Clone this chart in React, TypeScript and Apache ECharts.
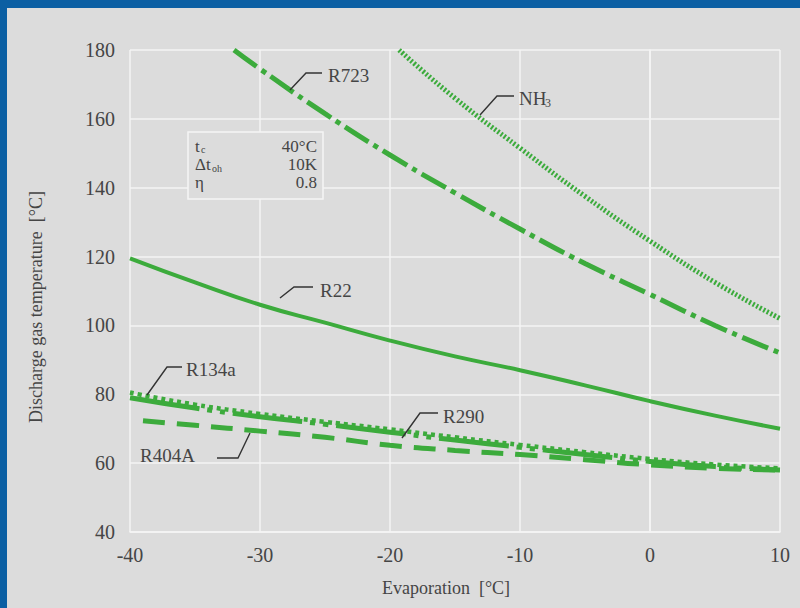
import React, { useEffect, useRef } from "react";
import * as echarts from "echarts";

const evapFull = [-40, -35, -30, -25, -20, -15, -10, -5, 0, 5, 10];
const evapR723 = [-32, -30, -25, -20, -15, -10, -5, 0, 5, 10];
const evapNH3 = [-19.3, -15, -10, -5, 0, 5, 10];
const evapR404A = [-39, -35, -30, -25, -20, -15, -10, -5, 0, 5, 10];

const r723 = [180, 174.5, 161.5, 149.5, 138.5, 128, 118, 109, 100, 92];
const nh3 = [180, 166, 151.5, 137.5, 124.5, 112.5, 102];
const r22 = [119.5, 112.5, 106, 100.8, 95.6, 91, 87, 82.6, 78, 73.8, 70];
const r134a = [80.5, 77, 74.3, 72, 69.8, 67.5, 65.3, 63.2, 61.2, 59.6, 58.5];
const r290 = [79, 76, 73.5, 71.3, 69, 66.7, 64.6, 62.5, 60.5, 59, 58];
const r404a = [72.3, 71, 69.3, 67.5, 65.2, 63.7, 62.5, 61, 59.5, 58.5, 58];

const xTicks = { min: -40, max: 10, interval: 10 };
const yTicks = { min: 40, max: 180, interval: 20 };

const GREEN = "#3cab3c";
const BLUE = "#0b5fa3";
const BG = "#dcdcdc";
const TXT = "#454545";
const SERIF = "Liberation Serif";

const zip = (xs: number[], ys: number[]) => xs.map((x, i) => [x, ys[i]]);

export default function App() {
  const ref = useRef<HTMLDivElement>(null);
  useEffect(() => {
    const chart = echarts.init(ref.current!, null, { renderer: "svg" });
    const mkSeries = (name: string, data: number[][], width: number, type: any) => ({
      name,
      type: "line",
      data,
      smooth: true,
      showSymbol: false,
      symbol: "none",
      lineStyle: { color: GREEN, width, type },
      z: 3,
    });
    const leader = (pts: number[][]) => ({
      type: "polyline",
      shape: { points: pts },
      style: { stroke: "#333", lineWidth: 1.4, fill: null },
      z: 50,
    });
    const txt = (text: string, x: number, y: number, size: number, align = "left", z = 50) => ({
      type: "text",
      x,
      y,
      style: {
        text,
        fill: TXT,
        fontSize: size,
        fontFamily: SERIF,
        align,
        verticalAlign: "middle",
        lineHeight: size,
      },
      z,
    });
    chart.setOption({
      animation: false,
      backgroundColor: BG,
      grid: { left: 130, right: 20, top: 50, bottom: 76, containLabel: false },
      xAxis: {
        type: "value",
        ...xTicks,
        axisLine: { show: true, lineStyle: { color: "#f5f5f5", width: 1.5 } },
        axisTick: { show: false },
        splitLine: { show: true, lineStyle: { color: "#f5f5f5", width: 1.5 } },
        axisLabel: { color: TXT, fontSize: 20, fontFamily: SERIF, margin: 13 },
      },
      yAxis: {
        type: "value",
        ...yTicks,
        axisLine: { show: true, lineStyle: { color: "#f5f5f5", width: 1.5 } },
        axisTick: { show: false },
        splitLine: { show: true, lineStyle: { color: "#f5f5f5", width: 1.5 } },
        axisLabel: { color: TXT, fontSize: 20, fontFamily: SERIF, margin: 15 },
      },
      series: [
        mkSeries("R723", zip(evapR723, r723), 5, [28, 6, 5, 6]),
        mkSeries("NH3", zip(evapNH3, nh3), 5, [2, 2]),
        mkSeries("R22", zip(evapFull, r22), 4, "solid"),
        mkSeries("R290", zip(evapFull, r290), 5, [70, 8, 5, 8, 5, 8]),
        mkSeries("R134a", zip(evapFull, r134a), 4.5, [4, 4]),
        mkSeries("R404A", zip(evapR404A, r404a), 5, [22, 12]),
      ],
      graphic: [
        { type: "rect", shape: { x: 0, y: 0, width: 800, height: 8 }, style: { fill: BLUE }, z: 200 },
        { type: "rect", shape: { x: 0, y: 0, width: 7, height: 608 }, style: { fill: BLUE }, z: 200 },
        {
          type: "text",
          x: 36,
          y: 307,
          rotation: Math.PI / 2,
          style: {
            text: "Discharge gas temperature  [°C]",
            fill: TXT,
            fontSize: 18,
            fontFamily: SERIF,
            align: "center",
            verticalAlign: "middle",
          },
        },
        {
          type: "text",
          x: 446,
          y: 588,
          style: {
            text: "Evaporation  [°C]",
            fill: TXT,
            fontSize: 18,
            fontFamily: SERIF,
            align: "center",
            verticalAlign: "middle",
          },
        },
        {
          type: "rect",
          shape: { x: 188, y: 132, width: 135, height: 67 },
          style: { fill: BG, stroke: "#f5f5f5", lineWidth: 1.5 },
          z: 100,
        },
        txt("t", 195, 146, 17, "left", 101),
        txt("c", 201, 149.5, 10, "left", 101),
        txt("Δt", 195, 164, 17, "left", 101),
        txt("oh", 212, 168, 10, "left", 101),
        txt("η", 195, 182, 17, "left", 101),
        txt("40°C", 317, 146, 17, "right", 101),
        txt("10K", 317, 164, 17, "right", 101),
        txt("0.8", 317, 182, 17, "right", 101),
        leader([[290, 90], [306, 73], [322, 73]]),
        txt("R723", 328, 75, 19),
        leader([[480, 115], [497, 96], [514, 96]]),
        txt("NH", 519, 98, 19),
        txt("3", 545, 103, 12),
        leader([[280, 298], [294, 287], [313, 287]]),
        txt("R22", 320, 290, 19),
        leader([[147, 395], [167, 367], [182, 367]]),
        txt("R134a", 186, 369, 19),
        leader([[217, 458], [238, 458], [250, 433]]),
        txt("R404A", 140, 455, 19),
        leader([[402, 438], [420, 413], [438, 413]]),
        txt("R290", 443, 416, 19),
      ],
    });
    return () => chart.dispose();
  }, []);
  return (
    <div
      ref={ref}
      style={{ position: "fixed", left: 0, top: 0, width: 800, height: 608 }}
    />
  );
}
